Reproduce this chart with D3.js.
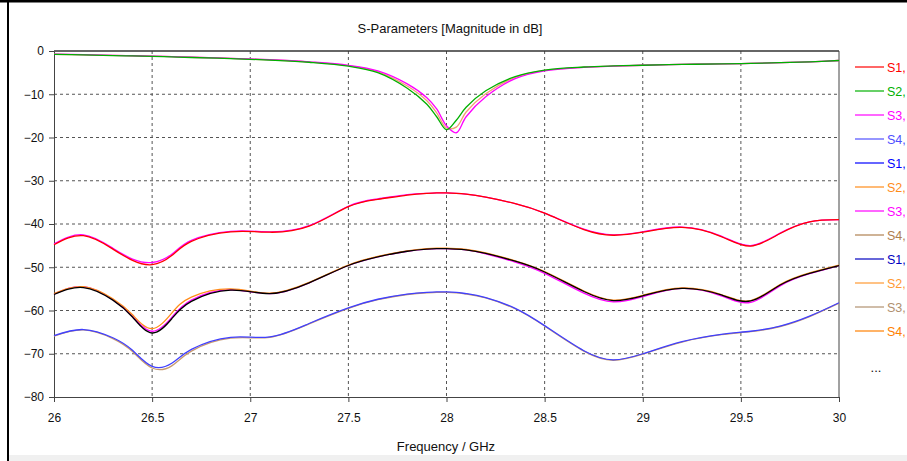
<!DOCTYPE html>
<html>
<head>
<meta charset="utf-8">
<script src="https://cdn.jsdelivr.net/npm/d3@7"></script>
<style>
  body { margin: 0; background: #fff; }
  svg { display: block; font-family: "Liberation Sans", Arial, sans-serif; }
</style>
</head>
<body>
<svg id="chart"></svg>
<script>
// frequency samples (GHz)
const freq = [26, 26.15, 26.3, 26.4, 26.5, 26.6, 26.7, 26.9, 27.1, 27.3, 27.5, 27.65, 27.8, 27.9, 27.95,
              28, 28.05, 28.1, 28.2, 28.35, 28.5, 28.7, 28.85, 29, 29.2, 29.4, 29.55, 29.7, 29.85, 30];

// reflection group (top)
const reflGreen = [-0.8, -0.9, -1.05, -1.15, -1.25, -1.35, -1.5, -1.75, -2.1, -2.6, -3.5, -5.0, -8.6, -12.3, -15.2,
                   -18.2, -16.0, -13.0, -9.2, -5.9, -4.4, -3.7, -3.45, -3.3, -3.1, -3.0, -2.85, -2.7, -2.5, -2.2];
const reflMagenta = [-0.7, -0.85, -1.0, -1.1, -1.2, -1.3, -1.45, -1.7, -2.0, -2.5, -3.3, -4.6, -7.6, -10.8, -13.4,
                     -17.3, -18.9, -15.2, -10.6, -6.4, -4.6, -3.8, -3.5, -3.3, -3.1, -3.0, -2.85, -2.7, -2.5, -2.2];
const reflPale = [-0.75, -0.9, -1.0, -1.1, -1.2, -1.3, -1.45, -1.7, -2.05, -2.55, -3.4, -4.8, -8.1, -11.5, -14.3,
                  -17.8, -17.6, -14.1, -9.9, -6.1, -4.5, -3.75, -3.5, -3.3, -3.1, -3.0, -2.85, -2.7, -2.5, -2.2];

// coupling groups
const adjRed = [-44.8, -42.7, -45.8, -48.4, -49.4, -47.3, -44.0, -41.8, -41.9, -40.5, -36.0, -34.3, -33.3, -32.9, -32.8,
                -32.8, -32.9, -33.1, -33.8, -35.3, -37.5, -41.3, -42.6, -41.9, -40.8, -42.9, -45.1, -42.2, -39.5, -39.0];
const adjMagenta = [-44.6, -42.5, -45.6, -48.1, -48.9, -47.0, -43.8, -41.7, -41.8, -40.4, -35.9, -34.2, -33.2, -32.9, -32.8,
                    -32.8, -32.9, -33.1, -33.8, -35.3, -37.5, -41.2, -42.5, -41.8, -40.7, -42.8, -45.0, -42.1, -39.5, -39.0];

const midBlack = [-56.3, -54.7, -57.6, -61.5, -65.2, -61.9, -57.9, -55.3, -56.1, -53.6, -49.6, -47.6, -46.3, -45.8, -45.7,
                  -45.7, -45.8, -46.0, -46.8, -48.6, -51.1, -55.6, -57.7, -56.6, -54.9, -56.4, -57.8, -54.1, -51.4, -49.6];
const midOrange = [-56.1, -54.5, -57.3, -61.0, -64.2, -60.6, -56.9, -55.0, -56.0, -53.5, -49.5, -47.5, -46.2, -45.7, -45.6,
                   -45.6, -45.7, -45.9, -46.7, -48.5, -51.0, -55.5, -57.6, -56.5, -54.8, -56.3, -57.7, -54.0, -51.3, -49.5];
const midMagenta = [-56.2, -54.5, -57.5, -61.3, -64.8, -61.6, -57.6, -55.2, -56.1, -53.6, -49.6, -47.6, -46.3, -45.8, -45.7,
                    -45.7, -45.8, -46.0, -46.9, -48.8, -51.4, -56.0, -58.0, -56.8, -54.9, -56.6, -58.1, -54.3, -51.5, -49.6];

const farBlue = [-65.8, -64.4, -66.3, -69.2, -72.9, -72.2, -69.0, -66.2, -66.1, -63.0, -59.4, -57.4, -56.2, -55.8, -55.7,
                 -55.7, -55.8, -56.1, -57.0, -59.5, -63.5, -69.3, -71.4, -70.0, -67.2, -65.5, -64.8, -63.6, -61.3, -58.2];
const farTan = [-65.9, -64.5, -66.5, -69.5, -73.3, -72.8, -69.4, -66.4, -66.2, -63.1, -59.5, -57.5, -56.3, -55.9, -55.8,
                -55.8, -55.9, -56.2, -57.1, -59.6, -63.6, -69.4, -71.5, -70.1, -67.3, -65.6, -64.9, -63.7, -61.4, -58.3];

// draw order: bottom first
const series = [
  { values: reflPale, color: "#f0a070", sharp: true },
  { values: reflMagenta, color: "#ff00ff", sharp: true },
  { values: reflGreen, color: "#00b000", sharp: true },
  { values: adjMagenta, color: "#ff00ff" },
  { values: adjRed, color: "#ff0000" },
  { values: midMagenta, color: "#ff00ff" },
  { values: midOrange, color: "#ff8c1a" },
  { values: midBlack, color: "#000000" },
  { values: farTan, color: "#c89a6e" },
  { values: farBlue, color: "#4040ff" }
];

// legend texts as far as the window shows them
const legendLabels = ["S1,", "S2,", "S3,", "S4,", "S1,", "S2,", "S3,", "S4,", "S1,", "S2,", "S3,", "S4,"];
const legendColors = ["#ff0000", "#00b000", "#ff00ff", "#5050ff", "#0000ff", "#ff8c1a",
                      "#ff00ff", "#b08050", "#0000c0", "#ff9933", "#b09070", "#ff8000"];

const xTicks = [26, 26.5, 27, 27.5, 28, 28.5, 29, 29.5, 30];
const yTicks = [0, -10, -20, -30, -40, -50, -60, -70, -80];

const W = 907, H = 461;
const plot = { left: 54, right: 839, top: 51, bottom: 397 };

const svg = d3.select("#chart").attr("width", W).attr("height", H);

// outer frame
svg.append("rect").attr("x", 9).attr("y", 455).attr("width", W - 9).attr("height", 6).attr("fill", "#f0f0f0");
svg.append("line").attr("x1", 0).attr("x2", W).attr("y1", 1).attr("y2", 1).attr("stroke", "#000").attr("stroke-width", 3);
svg.append("line").attr("x1", 8).attr("x2", 8).attr("y1", 0).attr("y2", H).attr("stroke", "#000").attr("stroke-width", 2);

const x = d3.scaleLinear().domain([26, 30]).range([plot.left, plot.right]);
const y = d3.scaleLinear().domain([-80, 0]).range([plot.bottom, plot.top]);

// grid
svg.append("g").selectAll("line").data(xTicks.slice(1, -1)).enter().append("line")
  .attr("x1", d => x(d)).attr("x2", d => x(d)).attr("y1", plot.top).attr("y2", plot.bottom)
  .attr("stroke", "#555").attr("stroke-dasharray", "3,3");
svg.append("g").selectAll("line").data(yTicks.slice(1, -1)).enter().append("line")
  .attr("x1", plot.left).attr("x2", plot.right).attr("y1", d => y(d)).attr("y2", d => y(d))
  .attr("stroke", "#555").attr("stroke-dasharray", "3,3");

// axes
const xAxis = svg.append("g").attr("transform", `translate(0,${plot.bottom})`)
  .call(d3.axisBottom(x).tickValues(xTicks).tickSize(5).tickSizeOuter(0).tickFormat(d3.format("")));
const yAxis = svg.append("g").attr("transform", `translate(${plot.left},0)`)
  .call(d3.axisLeft(y).tickValues(yTicks).tickSize(5).tickSizeOuter(0));
[xAxis, yAxis].forEach(a => {
  a.select(".domain").attr("stroke", "#444");
  a.selectAll(".tick line").attr("stroke", "#444");
  a.selectAll("text").attr("fill", "#111").style("font-size", "12px")
    .style("font-family", "'Liberation Sans', Arial, sans-serif");
});
xAxis.selectAll("text").attr("y", 16);
yAxis.selectAll("text").attr("x", -10);

svg.append("line").attr("x1", plot.left).attr("x2", plot.right).attr("y1", plot.top).attr("y2", plot.top)
  .attr("stroke", "#333").attr("stroke-width", 1.5);
svg.append("line").attr("x1", plot.right).attr("x2", plot.right).attr("y1", plot.top).attr("y2", plot.bottom)
  .attr("stroke", "#444");

// curves
const lineSharp = d3.line().x((d, i) => x(freq[i])).y(d => y(d)).curve(d3.curveCatmullRom.alpha(0.5));
const lineSmooth = d3.line().x((d, i) => x(freq[i])).y(d => y(d)).curve(d3.curveNatural);
svg.append("g").selectAll("path").data(series).enter().append("path")
  .attr("d", d => (d.sharp ? lineSharp : lineSmooth)(d.values))
  .attr("fill", "none")
  .attr("stroke", d => d.color)
  .attr("stroke-width", 1.3);

// titles
svg.append("text").attr("x", 450).attr("y", 33).attr("text-anchor", "middle")
  .style("font-size", "13px").attr("fill", "#111").text("S-Parameters [Magnitude in dB]");
svg.append("text").attr("x", 446).attr("y", 451).attr("text-anchor", "middle")
  .style("font-size", "13px").attr("fill", "#111").text("Frequency / GHz");

// legend
const leg = svg.append("g").selectAll("g").data(legendLabels).enter().append("g")
  .attr("transform", (d, i) => `translate(0,${67 + i * 24})`);
leg.append("line").attr("x1", 855).attr("x2", 884).attr("y1", 0).attr("y2", 0)
  .attr("stroke", (d, i) => legendColors[i]).attr("stroke-width", 1.2);
leg.append("text").attr("x", 887).attr("y", 5).style("font-size", "12.5px")
  .attr("fill", (d, i) => legendColors[i]).text(d => d);
svg.append("text").attr("x", 876).attr("y", 372).attr("text-anchor", "middle")
  .style("font-size", "13px").attr("fill", "#111").text("...");
</script>
</body>
</html>
